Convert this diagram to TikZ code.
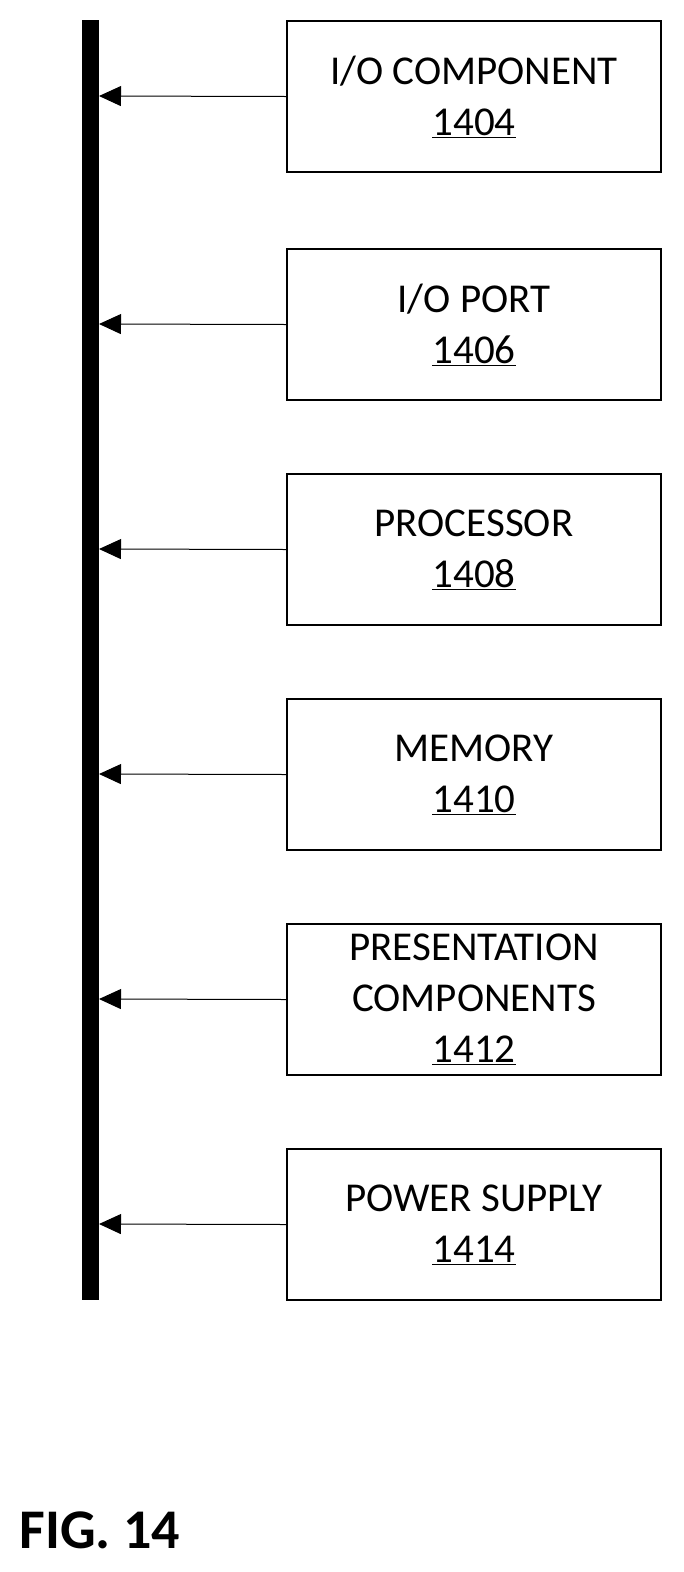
\documentclass[tikz,border=0pt]{standalone}
\usepackage{fontspec}
\setmainfont{Carlito}
\usetikzlibrary{arrows.meta}
\begin{document}
\begin{tikzpicture}[x=1pt,y=-1pt,
  box/.style={draw,line width=2pt,minimum width=374pt,minimum height=151pt,anchor=north west,align=center,font=\fontsize{41}{51}\selectfont},
  conn/.style={line width=1pt,-{Triangle[length=22pt,width=20pt]}}]
\useasboundingbox (0,0) rectangle (684,1572);
\fill (82,20) rectangle (99,1300);
\foreach \n/\y/\t in {a/20/{I/O COMPONENT\\\underline{1404}},
  b/248/{I/O PORT\\\underline{1406}},
  c/473/{PROCESSOR\\\underline{1408}},
  d/698/{MEMORY\\\underline{1410}},
  e/923/{PRESENTATION\\COMPONENTS\\\underline{1412}},
  f/1148/{POWER SUPPLY\\\underline{1414}}}{
  \node[box] (\n) at (286,\y) {\t};
  \coordinate (\n bus) at (99,\y+76);
  \draw[conn] (\n.west) -- (\n bus);
}
\node[anchor=west,font=\fontsize{56}{60}\selectfont\bfseries] (fig) at (16,1530) {FIG. 14};
\end{tikzpicture}
\end{document}
